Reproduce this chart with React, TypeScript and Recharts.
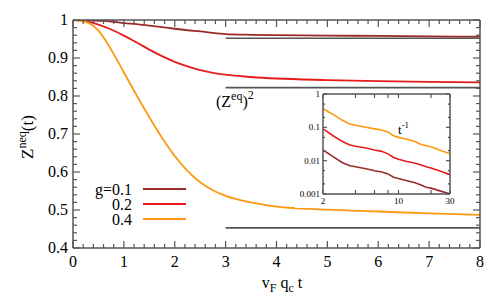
import { LineChart, Line, XAxis, YAxis } from 'recharts'

// main panel: Z^neq(t) vs vF qc t
const times = [0, 0.25, 0.5, 0.75, 1, 1.25, 1.5, 1.75, 2, 2.25, 2.5, 2.75, 3, 3.5, 4, 5, 6, 7, 8]
const zG01 = [1, 0.9995, 0.998, 0.996, 0.992, 0.989, 0.985, 0.981, 0.977, 0.973, 0.97, 0.966, 0.963, 0.961, 0.96, 0.959, 0.958, 0.957, 0.956]
const zG02 = [1, 0.997, 0.988, 0.975, 0.959, 0.941, 0.922, 0.905, 0.89, 0.878, 0.868, 0.861, 0.856, 0.85, 0.846, 0.842, 0.839, 0.837, 0.836]
const zG04 = [1, 0.995, 0.972, 0.922, 0.862, 0.802, 0.744, 0.69, 0.642, 0.603, 0.573, 0.552, 0.537, 0.52, 0.509, 0.501, 0.496, 0.491, 0.487]

// (Z^eq)^2 asymptotes, drawn from t=3 to t=8
const zeqSquared = [0.952, 0.822, 0.453]
const asymStart = 3
const asymEnd = 8

const gLabels = ['g=0.1', '0.2', '0.4']
const colors = ['#9b2b2b', '#e51c1c', '#ff9810']

const xMajor = [0, 1, 2, 3, 4, 5, 6, 7, 8]
const yMajor = [0.4, 0.5, 0.6, 0.7, 0.8, 0.9, 1]
const xMinorStep = 0.2
const yMinorStep = 0.02

// inset: |Z - Z_inf| on log-log axes
const insetT = [2, 2.5, 3, 3.5, 4, 5, 6, 7, 8, 9, 10, 12, 14, 16, 18, 20, 25, 30]
const dG01 = [0.021, 0.013, 0.0088, 0.0072, 0.0066, 0.0057, 0.005, 0.0046, 0.004, 0.0032, 0.0029, 0.0025, 0.0022, 0.0019, 0.0016, 0.0015, 0.0012, 0.00102]
const dG02 = [0.09, 0.055, 0.038, 0.03, 0.027, 0.024, 0.021, 0.019, 0.016, 0.0125, 0.011, 0.0095, 0.0085, 0.0075, 0.0066, 0.006, 0.0047, 0.0038]
const dG04 = [0.36, 0.24, 0.165, 0.128, 0.115, 0.1, 0.09, 0.083, 0.072, 0.056, 0.05, 0.044, 0.038, 0.031, 0.028, 0.026, 0.02, 0.016]

const insetXMajor = [2, 10, 30]
const insetXMinor = [4, 6, 8, 20]
const insetYMajor = [0.001, 0.01, 0.1, 1]
const insetYMinor = [0.002, 0.005, 0.02, 0.05, 0.2, 0.5]

const FONT = "'Liberation Serif'"
const AXIS = '#555'

const series = (xs: number[], ys: number[]) => xs.map((t, i) => ({ t, v: ys[i] }))
const steps = (from: number, to: number, step: number) =>
  Array.from({ length: Math.round((to - from) / step) + 1 }, (_, i) => +(from + i * step).toFixed(4))

const mainData = [zG01, zG02, zG04].map((ys) => series(times, ys))
const insetData = [dG01, dG02, dG04].map((ys) => series(insetT, ys))

const fmtMain = (v: number) => String(+v.toFixed(1))
const fmtInset = (v: number) => String(v)

function AxisTick(props: any) {
  const { x, y, payload, side, majors, len, minorLen, fontSize, fmt, labels, gap } = props
  const v = payload.value
  const isMajor = majors.some((m: number) => Math.abs(m - v) / Math.abs(m || 1) < 1e-6)
  const L = isMajor ? len : minorLen
  const ts = { fontFamily: FONT, fontSize }
  let line = null
  let text = null
  if (side === 'bottom') {
    line = <line x1={x} y1={y} x2={x} y2={y - L} stroke={AXIS} strokeWidth={1.2} />
    if (isMajor && labels) text = <text x={x} y={y + gap} textAnchor="middle" style={ts} fill="#000">{fmt(v)}</text>
  } else if (side === 'top') {
    line = <line x1={x} y1={y} x2={x} y2={y + L} stroke={AXIS} strokeWidth={1.2} />
  } else if (side === 'left') {
    line = <line x1={x} y1={y} x2={x + L} y2={y} stroke={AXIS} strokeWidth={1.2} />
    if (isMajor && labels) text = <text x={x - gap} y={y + fontSize * 0.33} textAnchor="end" style={ts} fill="#000">{fmt(v)}</text>
  } else {
    line = <line x1={x} y1={y} x2={x - L} y2={y} stroke={AXIS} strokeWidth={1.2} />
  }
  return (
    <g>
      {line}
      {text}
    </g>
  )
}

function MainChart() {
  const xTicks = steps(0, 8, xMinorStep)
  const yTicks = steps(0.4, 1, yMinorStep)
  const common = { tickSize: 0, tickMargin: 0, tickLine: false, interval: 0 as const, allowDataOverflow: true }
  const axisLine = { stroke: AXIS, strokeWidth: 1.5 }
  return (
    <LineChart width={498} height={303} margin={{ top: 10, right: 8, bottom: 25, left: 33 }}>
      <XAxis xAxisId="b" dataKey="t" type="number" domain={[0, 8]} ticks={xTicks} height={30} axisLine={axisLine} {...common}
        tick={(p: any) => <AxisTick {...p} side="bottom" majors={xMajor} len={7} minorLen={4} fontSize={16} fmt={fmtMain} labels gap={19} />} />
      <XAxis xAxisId="t" orientation="top" dataKey="t" type="number" domain={[0, 8]} ticks={xTicks} height={10} axisLine={axisLine} {...common}
        tick={(p: any) => <AxisTick {...p} side="top" majors={xMajor} len={7} minorLen={4} />} />
      <YAxis yAxisId="l" type="number" domain={[0.4, 1]} ticks={yTicks} width={40} axisLine={axisLine} {...common}
        tick={(p: any) => <AxisTick {...p} side="left" majors={yMajor} len={7} minorLen={4} fontSize={16} fmt={fmtMain} labels gap={5} />} />
      <YAxis yAxisId="r" orientation="right" type="number" domain={[0.4, 1]} ticks={yTicks} width={10} axisLine={axisLine} {...common}
        tick={(p: any) => <AxisTick {...p} side="right" majors={yMajor} len={7} minorLen={4} />} />
      {zeqSquared.map((z, i) => (
        <Line key={'a' + i} xAxisId="b" yAxisId="l" data={[{ t: asymStart, v: z }, { t: asymEnd, v: z }]} dataKey="v"
          stroke="#555" strokeWidth={1.6} dot={false} isAnimationActive={false} />
      ))}
      {mainData.map((d, i) => (
        <Line key={'g' + i} xAxisId="b" yAxisId="l" data={d} dataKey="v" type="monotone" stroke={colors[i]}
          strokeWidth={1.8} dot={false} isAnimationActive={false} />
      ))}
    </LineChart>
  )
}

function InsetChart() {
  const xTicks = [...insetXMajor, ...insetXMinor].sort((a, b) => a - b)
  const yTicks = [...insetYMajor, ...insetYMinor].sort((a, b) => a - b)
  const common = { tickSize: 0, tickMargin: 0, tickLine: false, interval: 0 as const, allowDataOverflow: true }
  const axisLine = { stroke: AXIS, strokeWidth: 1.5 }
  return (
    <LineChart width={160} height={119} margin={{ top: 3, right: 3, bottom: 0, left: 0 }} style={{ background: '#fff' }}>
      <XAxis xAxisId="b" dataKey="t" type="number" scale="log" domain={[2, 30]} ticks={xTicks} height={14} axisLine={axisLine} {...common}
        tick={(p: any) => <AxisTick {...p} side="bottom" majors={insetXMajor} len={4} minorLen={4} fontSize={9} fmt={fmtInset} labels gap={10} />} />
      <XAxis xAxisId="t" orientation="top" dataKey="t" type="number" scale="log" domain={[2, 30]} ticks={xTicks} height={2} axisLine={axisLine} {...common}
        tick={(p: any) => <AxisTick {...p} side="top" majors={insetXMajor} len={4} minorLen={4} />} />
      <YAxis yAxisId="l" type="number" scale="log" domain={[0.001, 1]} ticks={yTicks} width={28} axisLine={axisLine} {...common}
        tick={(p: any) => <AxisTick {...p} side="left" majors={insetYMajor} len={4} minorLen={2} fontSize={9} fmt={fmtInset} labels gap={3} />} />
      <YAxis yAxisId="r" orientation="right" type="number" scale="log" domain={[0.001, 1]} ticks={yTicks} width={2} axisLine={axisLine} {...common}
        tick={(p: any) => <AxisTick {...p} side="right" majors={insetYMajor} len={4} minorLen={2} />} />
      {insetData.map((d, i) => (
        <Line key={'i' + i} xAxisId="b" yAxisId="l" data={d} dataKey="v" type="linear" stroke={colors[i]}
          strokeWidth={1.6} dot={false} isAnimationActive={false} />
      ))}
    </LineChart>
  )
}

function Overlay() {
  const rows = [189, 204, 219]
  return (
    <svg width={498} height={303} style={{ position: 'absolute', left: 0, top: 0, pointerEvents: 'none', fontFamily: FONT }}>
      <text transform="rotate(-90, 33, 137)" x={33} y={137} textAnchor="middle" style={{ fontFamily: FONT, fontSize: 17 }}>
        Z<tspan dy={-7} style={{ fontSize: 12 }}>neq</tspan><tspan dy={7}>(t)</tspan>
      </text>
      <text x={282} y={288} textAnchor="middle" style={{ fontFamily: FONT, fontSize: 16 }}>
        v<tspan dy={4} style={{ fontSize: 12 }}>F</tspan><tspan dy={-4}> q</tspan><tspan dy={4} style={{ fontSize: 12 }}>c</tspan><tspan dy={-4}> t</tspan>
      </text>
      <text x={216} y={107} style={{ fontFamily: FONT, fontSize: 16 }}>
        (Z<tspan dy={-7} style={{ fontSize: 12 }}>eq</tspan><tspan dy={7}>)</tspan><tspan dy={-8} style={{ fontSize: 12 }}>2</tspan>
      </text>
      <text x={398} y={134} style={{ fontFamily: FONT, fontSize: 13 }}>
        t<tspan dy={-6} style={{ fontSize: 9 }}>-1</tspan>
      </text>
      {gLabels.map((g, i) => (
        <g key={g}>
          <text x={132} y={rows[i] + 5.5} textAnchor="end" style={{ fontFamily: FONT, fontSize: 16 }}>{g}</text>
          <line x1={143} y1={rows[i]} x2={186} y2={rows[i]} stroke={colors[i]} strokeWidth={2} />
        </g>
      ))}
    </svg>
  )
}

export default function App() {
  return (
    <div style={{ position: 'absolute', left: 0, top: 0, width: 498, height: 303, background: '#fff' }}>
      <MainChart />
      <div style={{ position: 'absolute', left: 295, top: 89 }}>
        <InsetChart />
      </div>
      <Overlay />
    </div>
  )
}
